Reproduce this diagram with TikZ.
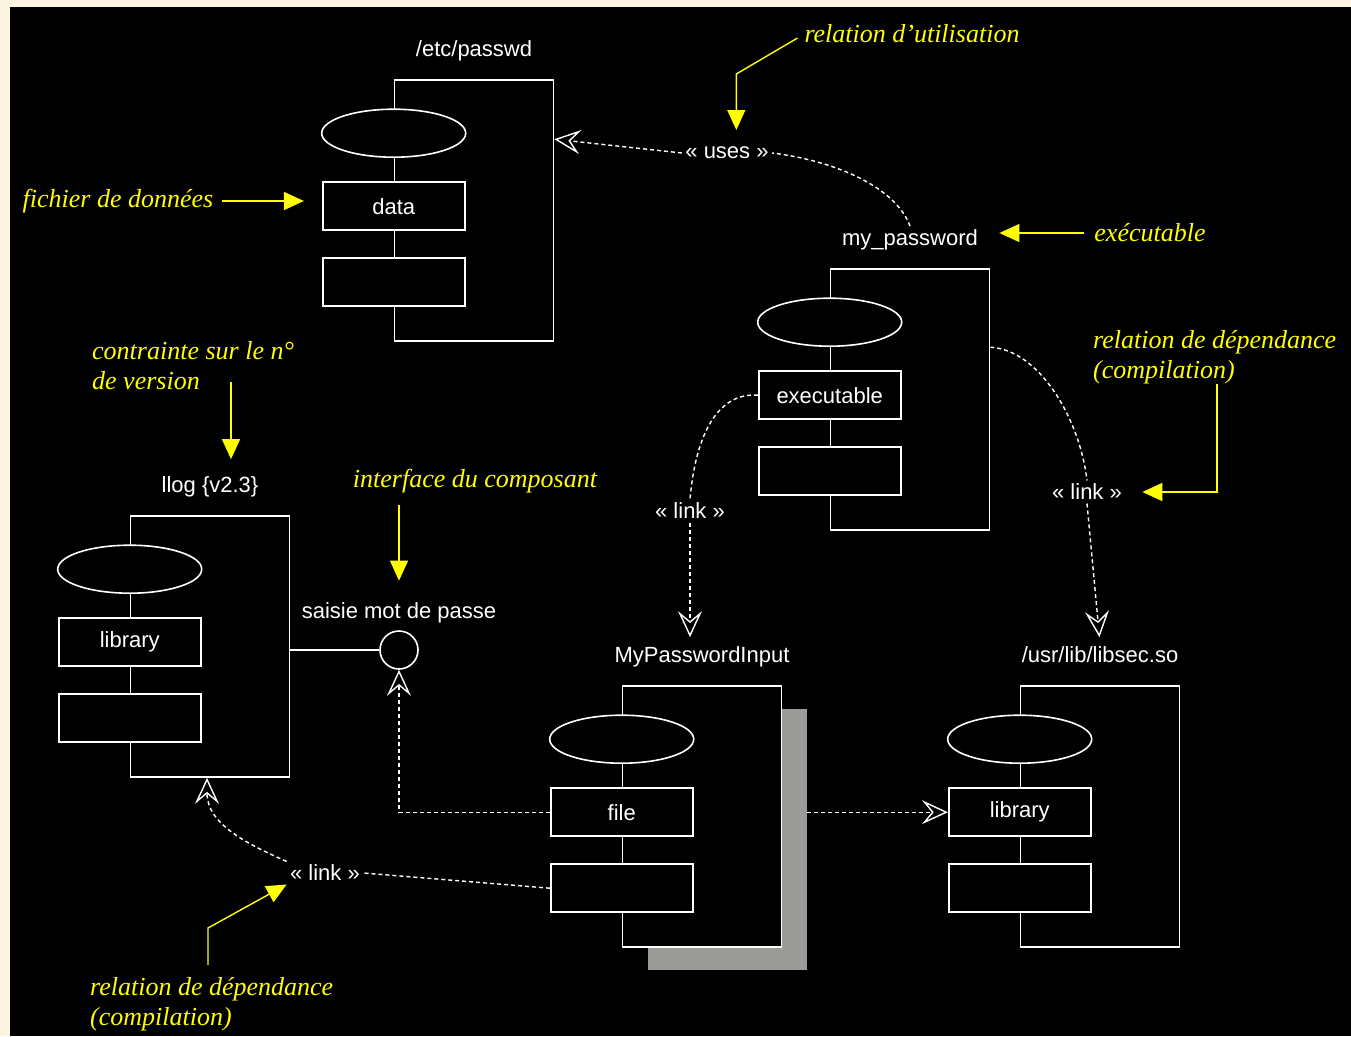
\documentclass[tikz,border=0pt]{standalone}
\usepackage{fontspec}
\setmainfont{Liberation Sans}
\newfontfamily\notefont{Liberation Serif}
\usetikzlibrary{arrows.meta,positioning,shapes.geometric}
\definecolor{cream}{RGB}{253,243,222}
\definecolor{shadowgray}{RGB}{155,156,152}
\definecolor{noteyellow}{RGB}{255,255,0}

\begin{document}
\begin{tikzpicture}[x=1pt, y=-1pt,
  every node/.style={font=\fontsize{22}{26}\selectfont, text=white},
  compname/.style={text height=16pt, text depth=5pt},
  compbox/.style={draw=white, line width=1.6pt, fill=black, minimum width=159pt, minimum height=261pt, inner sep=0pt},
  compoval/.style={draw=white, line width=1.6pt, fill=black, ellipse, minimum width=144pt, minimum height=48pt, inner sep=0pt},
  comprect/.style={draw=white, line width=1.6pt, fill=black, minimum width=142pt, minimum height=48pt, inner sep=0pt},
  dep/.style={draw=white, line width=1.4pt, dash pattern=on 4pt off 3pt},
  deptip/.style={-{Stealth[open, length=26pt, width=24pt, inset=10pt]}},
  note/.style={draw=noteyellow, line width=1.4pt, -{Triangle[length=20pt, width=18pt]}},
  notetext/.style={text=noteyellow, font=\notefont\itshape\fontsize{26}{30}\selectfont, align=left, inner sep=0pt}]

  \fill[cream] (0,0) rectangle (1351,1036);
  \fill[black] (10,7) rectangle (1351,1036);
  \useasboundingbox (0,0) rectangle (1351,1036);

  % components
  \node[compbox] (passwd) at (474,210.5) {};
  \node[compname, above=14pt of passwd] (passwdname) {/etc/passwd};
  \node[compoval] (passwdoval) at ([yshift=-54pt]passwd.north west) {};
  \node[comprect] (passwddata) at ([yshift=-127pt]passwd.north west) {data};
  \node[comprect] (passwdbot) at ([yshift=-203pt]passwd.north west) {};

  \node[compbox] (mypwd) at (910,399.5) {};
  \node[compname, above=14pt of mypwd] (mypwdname) {my\_password};
  \node[compoval] (mypwdoval) at ([yshift=-54pt]mypwd.north west) {};
  \node[comprect] (mypwdexe) at ([yshift=-127pt]mypwd.north west) {executable};
  \node[comprect] (mypwdbot) at ([yshift=-203pt]mypwd.north west) {};

  \node[compbox] (llog) at (210,646.5) {};
  \node[compname, above=14pt of llog] (llogname) {llog \{v2.3\}};
  \node[compoval] (llogoval) at ([yshift=-54pt]llog.north west) {};
  \node[comprect] (lloglib) at ([yshift=-127pt]llog.north west) {library};
  \node[comprect] (llogbot) at ([yshift=-203pt]llog.north west) {};

  \node[compbox, draw=none, fill=shadowgray] (inputshadow) at (727,839.5) {};
  \node[compbox] (input) at (702,816.5) {};
  \node[compname, above=14pt of input] (inputname) {MyPasswordInput};
  \node[compoval] (inputoval) at ([yshift=-54pt]input.north west) {};
  \node[comprect] (inputfile) at ([yshift=-127pt]input.north west) {file};
  \node[comprect] (inputbot) at ([yshift=-203pt]input.north west) {};

  \node[compbox] (libsec) at (1100,816.5) {};
  \node[compname, above=14pt of libsec] (libsecname) {/usr/lib/libsec.so};
  \node[compoval] (libsecoval) at ([yshift=-54pt]libsec.north west) {};
  \node[comprect] (libseclib) at ([yshift=-127pt]libsec.north west) {library};
  \node[comprect] (libsecbot) at ([yshift=-203pt]libsec.north west) {};

  % interface
  \node[circle, draw=white, line width=1.6pt, minimum size=38pt, inner sep=0pt] (iface) at (399,650) {};
  \node[above=4pt of iface] (ifacename) {saisie mot de passe};
  \draw[white, line width=1.6pt] (llog.east |- iface) -- (iface.west);

  % relations
  \node (uses) at (727,153) {« uses »};
  \draw[dep] (mypwdname.north) .. controls (895,185) and (830,160) .. (uses.east);
  \draw[dep, deptip] (uses.west) -- ([yshift=-60pt]passwd.north east);

  \node (linkl) at (690,511) {« link »};
  \draw[dep] (mypwdexe.west) .. controls (715,392) and (695,440) .. (linkl.north);
  \draw[dep, deptip, shorten >=6pt] (linkl.south) -- (linkl.south |- inputname.north);

  \node (linkr) at (1087,492) {« link »};
  \draw[dep] ([yshift=-79pt]mypwd.north east) .. controls (1040,350) and (1080,420) .. (linkr.north);
  \draw[dep, deptip, shorten >=6pt] (linkr.south) -- (libsecname.north);

  \draw[dep, deptip] (inputfile.west) -| (iface.south);
  \draw[dep, deptip] (inputshadow.east |- libseclib.west) -- (libseclib.west);

  \node (linkb) at (325,873) {« link »};
  \draw[dep] (inputbot.west) -- (linkb.east);
  \draw[dep, deptip] (linkb.north west) .. controls (250,845) and (207,825) .. ([xshift=-3pt]llog.south);

  % notes
  \node[notetext] (utilnote) at (912,34) {relation d’utilisation};
  \draw[note, shorten <=8pt] (utilnote.west) -- ++(-68,40) -- ++(0,56);

  \node[notetext] (datanote) at (118,201) {fichier de données};
  \draw[note, shorten <=8pt, shorten >=18pt] (datanote.east) -- (datanote.east -| passwddata.west);

  \node[notetext] (exenote) at (1150,233) {exécutable};
  \draw[note, shorten <=10pt, shorten >=18pt] (exenote.west) -- (exenote.west -| mypwdname.east);

  \node[notetext, anchor=north west] (deprnote) at (1093,330) {relation de dépendance\\(compilation)};
  \draw[note] ([xshift=124pt]deprnote.south west) |- ([xshift=17pt]linkr.east);

  \node[notetext, anchor=north west] (versnote) at (92,341) {contrainte sur le n°\\de version};
  \coordinate (verstail) at (231,382);
  \draw[note, shorten >=14pt] (verstail) -- (verstail |- llogname.north);

  \node[notetext] (ifacenote) at (475,481) {interface du composant};
  \draw[note, shorten <=12pt, shorten >=18pt] (ifacenote.south -| iface) -- (ifacename.north);

  \node[notetext, anchor=north west] (depbnote) at (90,977) {relation de dépendance\\(compilation)};
  \draw[note] ([xshift=118pt, yshift=12pt]depbnote.north west) -- ++(0,-37) -- (linkb.south west);
\end{tikzpicture}
\end{document}
